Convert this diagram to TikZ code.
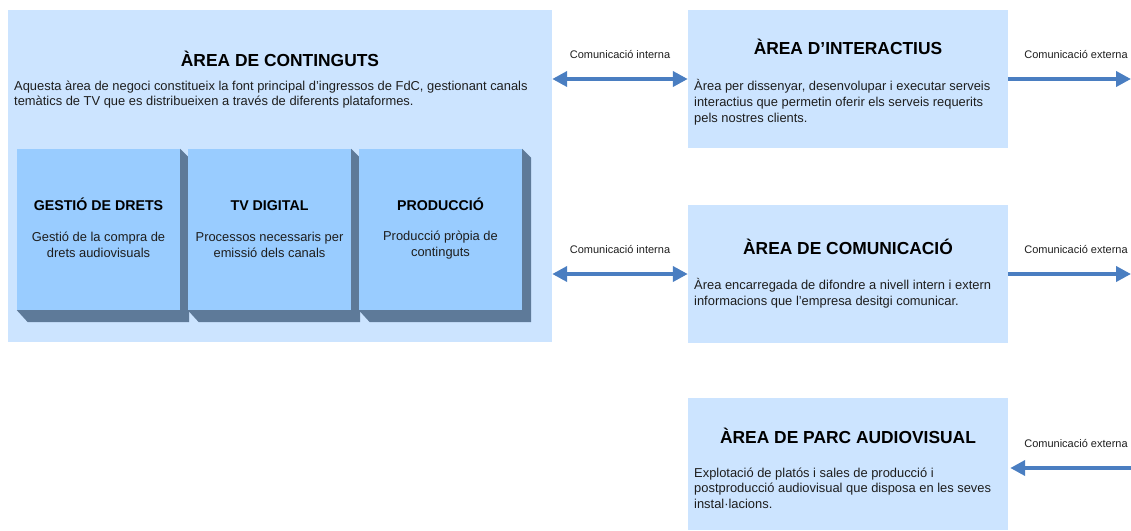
\documentclass[tikz,border=0pt]{standalone}
\usepackage{fontspec}
\setmainfont{Liberation Sans}
\usetikzlibrary{arrows.meta,calc}

\definecolor{areafill}{RGB}{204,228,255}
\definecolor{blockfill}{RGB}{153,204,255}
\definecolor{blockside}{RGB}{94,122,153}
\definecolor{arrowblue}{RGB}{74,126,193}
\definecolor{bodytext}{RGB}{30,30,30}

\tikzset{
  area/.style={rectangle,fill=areafill,inner sep=0pt},
  block/.style={rectangle,fill=blockfill,inner sep=0pt,minimum width=163pt,minimum height=161pt},
  areatitle/.style={font=\fontsize{17.4}{20}\selectfont\bfseries,text=black,inner sep=0pt,anchor=base},
  blocktitle/.style={font=\fontsize{14.2}{17}\selectfont\bfseries,text=black,inner sep=0pt,anchor=base},
  desc/.style={font=\fontsize{12.9}{15.7}\selectfont,align=left,anchor=north west,inner sep=0pt,text=bodytext},
  blockdesc/.style={font=\fontsize{12.9}{16}\selectfont,align=center,inner sep=0pt,text=bodytext},
  commlabel/.style={font=\fontsize{11}{13}\selectfont,inner sep=0pt,text=bodytext},
  comm/.style={draw=arrowblue,line width=4pt,-{Triangle[length=15pt,width=15pt]}},
  dblcomm/.style={draw=arrowblue,line width=4pt,{Triangle[length=15pt,width=15pt]}-{Triangle[length=15pt,width=15pt]}},
}

\begin{document}
\begin{tikzpicture}[x=1pt,y=-1pt]
\useasboundingbox (0,0) rectangle (1131,530);

% areas
\node[area,minimum width=544pt,minimum height=332pt] (continguts) at (280,176) {};
\node[area,minimum width=320pt,minimum height=138pt] (interactius) at (848,79) {};
\node[area,minimum width=320pt,minimum height=138pt] (comunicacio) at (848,274) {};
\node[area,minimum width=320pt,minimum height=132pt] (parc) at (848,464) {};

\node[areatitle] (contTitle) at (280,66) {ÀREA DE CONTINGUTS};
\node[desc] (contDesc) at (14,80.5) {Aquesta àrea de negoci constitueix la font principal d'ingressos de FdC, gestionant canals\\temàtics de TV que es distribueixen a través de diferents plataformes.};

% blocks
\node[block] (drets) at (98.5,229.5) {};
\fill[blockside] (drets.north east) -- ++(9,9) -- ($(drets.south east)+(9,12)$) -- ($(drets.south west)+(11,12)$) -- (drets.south west) -- (drets.south east) -- cycle;
\node[block] (tvdigital) at (269.5,229.5) {};
\fill[blockside] (tvdigital.north east) -- ++(9,9) -- ($(tvdigital.south east)+(9,12)$) -- ($(tvdigital.south west)+(11,12)$) -- (tvdigital.south west) -- (tvdigital.south east) -- cycle;
\node[block] (produccio) at (440.5,229.5) {};
\fill[blockside] (produccio.north east) -- ++(9,9) -- ($(produccio.south east)+(9,12)$) -- ($(produccio.south west)+(11,12)$) -- (produccio.south west) -- (produccio.south east) -- cycle;

\node[blocktitle] (dretsTitle) at (98.5,210) {GESTIÓ DE DRETS};
\node[blockdesc] (dretsDesc) at (98.5,245) {Gestió de la compra de\\drets audiovisuals};
\node[blocktitle] (tvTitle) at (269.5,210) {TV DIGITAL};
\node[blockdesc] (tvDesc) at (269.5,245) {Processos necessaris per\\emissió dels canals};
\node[blocktitle] (prodTitle) at (440.5,210) {PRODUCCIÓ};
\node[blockdesc] (prodDesc) at (440.5,245) {Producció pròpia de\\continguts};

% right areas
\node[areatitle] (interTitle) at (848,54) {ÀREA D’INTERACTIUS};
\node[desc] (interDesc) at (694,79.5) {Àrea per dissenyar, desenvolupar i executar serveis\\interactius que permetin oferir els serveis requerits\\pels nostres clients.};
\node[areatitle] (comTitle) at (848,254) {ÀREA DE COMUNICACIÓ};
\node[desc] (comDesc) at (694,278.5) {Àrea encarregada de difondre a nivell intern i extern\\informacions que l'empresa desitgi comunicar.};
\node[areatitle] (parcTitle) at (848,443) {ÀREA DE PARC AUDIOVISUAL};
\node[desc] (parcDesc) at (694,467.5) {Explotació de platós i sales de producció i\\postproducció audiovisual que disposa en les seves\\instal·lacions.};

% communication
\coordinate (extInter) at (1131,79);
\coordinate (extCom) at (1131,274);
\coordinate (extParc) at (1131,468);
\draw[dblcomm] (continguts.east |- interactius.west) -- (interactius.west);
\draw[dblcomm] (continguts.east |- comunicacio.west) -- (comunicacio.west);
\draw[comm] (interactius.east) -- (extInter);
\draw[comm] (comunicacio.east) -- (extCom);
\draw[comm,shorten >=2pt] (extParc) -- (parc.east |- extParc);

\node[commlabel] (intLabelA) at (620,55) {Comunicació interna};
\node[commlabel] (intLabelB) at (620,250) {Comunicació interna};
\node[commlabel] (extLabelA) at (1076,55) {Comunicació externa};
\node[commlabel] (extLabelB) at (1076,250) {Comunicació externa};
\node[commlabel] (extLabelC) at (1076,443) {Comunicació externa};
\end{tikzpicture}
\end{document}
